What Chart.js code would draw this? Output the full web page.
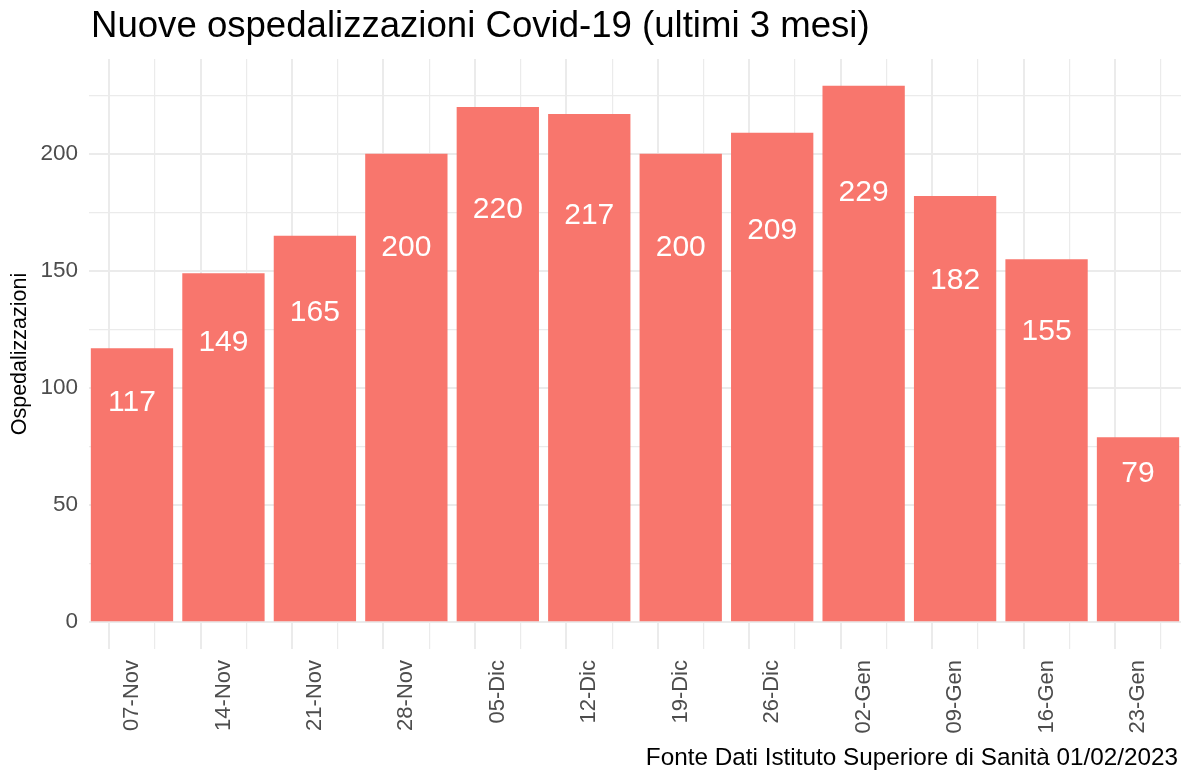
<!DOCTYPE html>
<html>
<head>
<meta charset="utf-8">
<script src="https://cdn.jsdelivr.net/npm/chart.js@4/dist/chart.umd.min.js"></script>
<style>
  html, body { margin: 0; padding: 0; background: #ffffff; }
  #wrap { width: 1182px; height: 774px; position: relative; }
</style>
</head>
<body>
<div id="wrap"><canvas id="c" width="1182" height="774"></canvas></div>
<script>
const titleText = "Nuove ospedalizzazioni Covid-19 (ultimi 3 mesi)";
const captionText = "Fonte Dati Istituto Superiore di Sanità 01/02/2023";
const yAxisTitle = "Ospedalizzazioni";
const categories = ["07-Nov","14-Nov","21-Nov","28-Nov","05-Dic","12-Dic","19-Dic","26-Dic","02-Gen","09-Gen","16-Gen","23-Gen"];
const values = [117,149,165,200,220,217,200,209,229,182,155,79];
const yTickValues = [0,25,50,75,100,125,150,175,200,225];
const yLabelStep = 50;

const FONT = "'Liberation Sans', Arial, Helvetica, sans-serif";
const GRID = '#ebebeb';

const textPlugin = {
  id: 'texts',
  afterDatasetsDraw(chart) {
    const ctx = chart.ctx;
    const meta = chart.getDatasetMeta(0);
    const ys = chart.scales.y;
    ctx.save();
    ctx.fillStyle = '#ffffff';
    ctx.font = '30px ' + FONT;
    ctx.textAlign = 'center';
    ctx.textBaseline = 'middle';
    meta.data.forEach((bar, i) => {
      ctx.fillText(String(values[i]), bar.x, ys.getPixelForValue(values[i] * 0.8));
    });
    ctx.restore();
  },
  afterDraw(chart) {
    const ctx = chart.ctx;
    ctx.save();
    ctx.fillStyle = '#000000';
    ctx.font = '36.6px ' + FONT;
    ctx.textAlign = 'left';
    ctx.textBaseline = 'alphabetic';
    ctx.fillText(titleText, 91, 37);
    ctx.font = '24.3px ' + FONT;
    ctx.textAlign = 'right';
    ctx.fillText(captionText, 1178, 765);
    ctx.restore();
  }
};

const xMin = -0.47, xMax = categories.length - 1 + 0.47;

new Chart(document.getElementById('c'), {
  type: 'bar',
  data: {
    datasets: [{
      data: values.map((v, i) => ({ x: i, y: v })),
      backgroundColor: '#F8766D',
      borderWidth: 0,
      // tick spacing is half a category (minor grid ticks), so 1.8 => 0.9 of a category
      barPercentage: 1.8,
      categoryPercentage: 1.0
    }]
  },
  options: {
    responsive: false,
    animation: false,
    devicePixelRatio: 1,
    layout: { padding: { top: 59, right: 1, bottom: 0, left: 0 } },
    plugins: {
      legend: { display: false },
      tooltip: { enabled: false },
      title: { display: false }
    },
    scales: {
      x: {
        type: 'linear',
        offset: false,
        min: xMin,
        max: xMax,
        afterBuildTicks(scale) {
          const t = [];
          for (let i = 0; i < categories.length; i++) {
            t.push({ value: i });
            if (i < categories.length - 1) t.push({ value: i + 0.5 });
          }
          scale.ticks = t;
        },
        afterFit(scale) { scale.height = 125; },
        border: { display: false },
        grid: {
          color: GRID,
          drawTicks: false,
          lineWidth: (ctx) => (ctx.tick && Number.isInteger(ctx.tick.value)) ? 2 : 1.2
        },
        ticks: {
          autoSkip: false,
          minRotation: 90,
          maxRotation: 90,
          padding: 11,
          color: '#4d4d4d',
          font: { family: FONT, size: 22 },
          callback: (v) => Number.isInteger(v) ? categories[v] : ''
        }
      },
      y: {
        min: -11.45,
        max: 240.45,
        afterBuildTicks(scale) {
          scale.ticks = yTickValues.map(v => ({ value: v }));
        },
        afterFit(scale) { scale.width = 89; },
        border: { display: false },
        grid: {
          color: GRID,
          drawTicks: false,
          lineWidth: (ctx) => (ctx.tick && ctx.tick.value % yLabelStep === 0) ? 2 : 1.2
        },
        ticks: {
          padding: 11,
          color: '#4d4d4d',
          font: { family: FONT, size: 22.5 },
          callback: (v) => (v % yLabelStep === 0) ? String(v) : ''
        },
        title: {
          display: true,
          text: yAxisTitle,
          color: '#000000',
          font: { family: FONT, size: 21.5 },
          padding: { top: 7, bottom: 0 }
        }
      }
    }
  },
  plugins: [textPlugin]
});
</script>
</body>
</html>
